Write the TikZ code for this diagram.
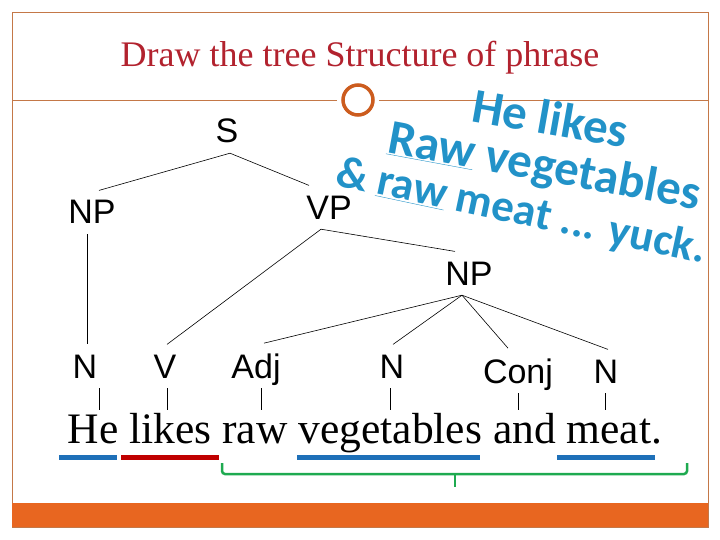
\documentclass[tikz,border=0pt]{standalone}
\usepackage{fontspec}
\setmainfont{Liberation Serif}
\newfontfamily\arialf{Liberation Sans}
\newfontfamily\waf{Carlito}
\definecolor{framec}{RGB}{196,120,72}
\definecolor{circc}{RGB}{204,92,30}
\definecolor{barc}{RGB}{232,102,32}
\definecolor{titlered}{RGB}{178,34,46}
\definecolor{ubblue}{RGB}{30,112,184}
\definecolor{ubred}{RGB}{192,0,0}
\definecolor{brgreen}{RGB}{30,170,80}
\definecolor{wablue}{RGB}{34,146,200}
\begin{document}
\begin{tikzpicture}[x=1pt,y=-1pt,
  framel/.style={draw=framec, line width=0.8pt},
  lbl/.style={font=\arialf\fontsize{34}{34}\selectfont, inner sep=10pt, text depth=0pt, anchor=base},
  treeedge/.style={line width=0.6pt},
  wa/.style={font=\waf\bfseries\fontsize{49}{49}\selectfont, text=wablue, anchor=base west, inner sep=0pt}]
\useasboundingbox (0,0) rectangle (720,540);
\clip (0,0) rectangle (720,540);
% frame and header
\draw[framel] (12,12) rectangle (708,527);
\fill[barc] (12,503) rectangle (708,527);
\node[font=\fontsize{36}{36}\selectfont, text=titlered, anchor=base] (title) at (360,67) {Draw the tree Structure of phrase};
\node[circle, draw=circc, line width=3.5pt, minimum size=30pt, fill=white] (circ) at (358,100) {};
\draw[framel] (12,100) -- ([xshift=-4pt]circ.west);
\draw[framel] ([xshift=4pt]circ.east) -- (708,100);
% word art
\node[wa, rotate=-10] (w1) at (470,121) {He likes};
\node[wa, rotate=-10.5] (w2) at (386,152) {\underline{Raw} vegetables};
\node[wa, rotate=-12, font=\waf\bfseries\fontsize{45}{45}\selectfont] (w3) at (334,185) {\& \underline{raw} meat ... yuck.};
% tree nodes
\node[lbl] (S) at (227,143) {S};
\node[lbl] (NP) at (92,224) {NP};
\node[lbl] (VP) at (329,219) {VP};
\node[lbl] (NP2) at (469,285) {NP};
\node[lbl] (N1) at (85,378) {N};
\node[lbl] (V) at (165,378) {V};
\node[lbl] (Adj) at (256,378) {Adj};
\node[lbl] (N2) at (392,378) {N};
\node[lbl] (Conj) at (518,383) {Conj};
\node[lbl] (N3) at (606,383) {N};
\node[font=\fontsize{43.5}{43.5}\selectfont, anchor=base, inner sep=0pt] (sent) at (365,443) {He likes raw vegetables and meat.};
% tree edges
\draw[treeedge] ([xshift=3pt]S.south) -- ([xshift=7pt]NP.north);
\draw[treeedge] ([xshift=3pt]S.south) -- ([xshift=-20pt]VP.north);
\draw[treeedge] ([xshift=-5pt]NP.south) -- ([xshift=2pt]N1.north);
\draw[treeedge] ([xshift=-8pt]VP.south) -- ([xshift=2pt]V.north);
\draw[treeedge] ([xshift=-8pt]VP.south) -- ([xshift=-14pt]NP2.north);
\draw[treeedge] ([xshift=-7pt]NP2.south) -- ([xshift=8pt]Adj.north);
\draw[treeedge] ([xshift=-7pt]NP2.south) -- ([xshift=1pt]N2.north);
\draw[treeedge] ([xshift=-7pt]NP2.south) -- ([xshift=-10pt]Conj.north);
\draw[treeedge] ([xshift=-7pt]NP2.south) -- ([xshift=2pt]N3.north);
% leaf to word
\draw[treeedge, shorten >=3pt] ([xshift=14pt]N1.south) -- ([xshift=14pt]N1.south |- sent.north);
\draw[treeedge, shorten >=3pt] ([xshift=2pt]V.south) -- ([xshift=2pt]V.south |- sent.north);
\draw[treeedge, shorten >=3pt] ([xshift=5pt]Adj.south) -- ([xshift=5pt]Adj.south |- sent.north);
\draw[treeedge, shorten >=3pt] ([xshift=-2pt]N2.south) -- ([xshift=-2pt]N2.south |- sent.north);
\draw[treeedge, shorten >=3pt] (Conj.south) -- (Conj.south |- sent.north);
\draw[treeedge, shorten >=3pt] ([xshift=-1pt]N3.south) -- ([xshift=-1pt]N3.south |- sent.north);
% underbars
\fill[ubblue] (59,454.5) rectangle (117,459.5);
\fill[ubred] (121,454.5) rectangle (219,459.5);
\fill[ubblue] (297,454.5) rectangle (480,459.5);
\fill[ubblue] (557,454.5) rectangle (655,459.5);
% bracket
\draw[brgreen, line width=2.5pt, rounded corners=3pt] (222,463) -- (222,474) -- (687,474) -- (687,463);
\draw[brgreen, line width=2.5pt] (455,474) -- (455,487);
\end{tikzpicture}
\end{document}
